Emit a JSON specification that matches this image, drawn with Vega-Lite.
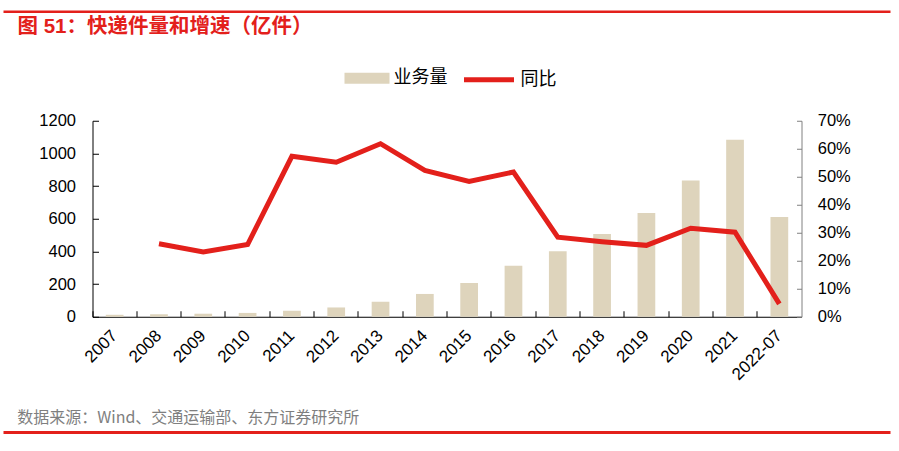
{
  "$schema": "https://vega.github.io/schema/vega-lite/v6.json",
  "background": "white",
  "padding": {"left": 1.5, "top": 9.75, "right": 0, "bottom": 0},
  "autosize": {"type": "pad"},
  "bounds": "flush",
  "center": true,
  "spacing": 20,
  "config": {"view": {"stroke": null}, "axis": {"grid": false}},
  "vconcat": [
    {
      "width": 887,
      "height": 89,
      "data": {"values": [{"start": 0, "end": 1, "level": 1}]},
      "mark": {"type": "rule", "color": "#E3201B", "strokeWidth": 2.5},
      "encoding": {
        "x": {"field": "start", "type": "quantitative", "scale": {"domain": [0, 1], "nice": false, "zero": false}, "axis": null},
        "x2": {"field": "end"},
        "y": {"field": "level", "type": "quantitative", "scale": {"domain": [0, 1], "nice": false}, "axis": null}
      },
      "title": {
        "text": "图 51：快递件量和增速（亿件）",
        "orient": "top",
        "anchor": "start",
        "frame": "group",
        "offset": -27,
        "dx": 14,
        "font": "Liberation Sans, Noto Sans CJK SC",
        "fontSize": 20.5,
        "fontWeight": "bold",
        "color": "#E3201B"
      }
    },
    {
      "width": 709,
      "height": 196,
      "data": {
        "values": [
          {"period": "2007", "volume": 12.0, "yoy": null},
          {"period": "2008", "volume": 15.1, "yoy": 0.261},
          {"period": "2009", "volume": 18.6, "yoy": 0.231},
          {"period": "2010", "volume": 23.4, "yoy": 0.258},
          {"period": "2011", "volume": 36.7, "yoy": 0.573},
          {"period": "2012", "volume": 56.9, "yoy": 0.552},
          {"period": "2013", "volume": 91.9, "yoy": 0.618},
          {"period": "2014", "volume": 139.6, "yoy": 0.523},
          {"period": "2015", "volume": 206.7, "yoy": 0.483},
          {"period": "2016", "volume": 312.8, "yoy": 0.517},
          {"period": "2017", "volume": 400.6, "yoy": 0.284},
          {"period": "2018", "volume": 507.1, "yoy": 0.268},
          {"period": "2019", "volume": 635.2, "yoy": 0.255},
          {"period": "2020", "volume": 833.6, "yoy": 0.316},
          {"period": "2021", "volume": 1083.0, "yoy": 0.302},
          {"period": "2022-07", "volume": 610.0, "yoy": 0.046}
        ]
      },
      "encoding": {
        "x": {
          "field": "period",
          "type": "nominal",
          "sort": null,
          "scale": {"paddingInner": 0, "paddingOuter": 0},
          "axis": {
            "title": null,
            "bandPosition": 0,
            "domainColor": "#000000",
            "domainWidth": 1,
            "tickColor": "#000000",
            "tickSize": -6,
            "labelAngle": -45,
            "labelAlign": "right",
            "labelBaseline": "middle",
            "labelOffset": 0,
            "labelPadding": 22,
            "labelFont": "Liberation Sans",
            "labelFontSize": 17,
            "labelColor": "#000000"
          }
        }
      },
      "layer": [
        {
          "mark": {"type": "bar", "width": {"band": 0.4}},
          "encoding": {
            "y": {
              "field": "volume",
              "type": "quantitative",
              "scale": {"domain": [0, 1200], "nice": false},
              "axis": {
                "title": null,
                "orient": "left",
                "format": "d",
                "values": [0, 200, 400, 600, 800, 1000, 1200],
                "domainColor": "#000000",
                "tickColor": "#000000",
                "tickSize": -6,
                "labelPadding": 23,
                "labelFont": "Liberation Sans",
                "labelFontSize": 16.5,
                "labelColor": "#000000"
              }
            },
            "color": {
              "datum": "业务量",
              "scale": {"range": ["#DED4BC"]},
              "legend": {
                "title": null,
                "orient": "none",
                "legendX": 341,
                "legendY": 44,
                "symbolType": "M-1,-0.24H1V0.24H-1Z",
                "symbolSize": 2025,
                "symbolStrokeWidth": 0,
                "labelFont": "Noto Sans CJK SC",
                "labelFontSize": 18,
                "labelColor": "#000000",
                "labelOffset": 4
              }
            }
          }
        },
        {
          "mark": {"type": "line", "strokeWidth": 5},
          "encoding": {
            "y": {
              "field": "yoy",
              "type": "quantitative",
              "scale": {"domain": [0, 0.7], "nice": false},
              "axis": {
                "title": null,
                "orient": "right",
                "format": ".0%",
                "values": [0, 0.1, 0.2, 0.3, 0.4, 0.5, 0.6, 0.7],
                "domainColor": "#808080",
                "tickColor": "#808080",
                "tickSize": -5,
                "labelPadding": 20.7,
                "labelFont": "Liberation Sans",
                "labelFontSize": 16.5,
                "labelColor": "#000000"
              }
            },
            "stroke": {
              "datum": "同比",
              "scale": {"range": ["#E3201B"]},
              "legend": {
                "title": null,
                "orient": "none",
                "legendX": 458,
                "legendY": 40.5,
                "symbolType": "stroke",
                "symbolSize": 2500,
                "symbolStrokeWidth": 5,
                "labelFont": "Noto Sans CJK SC",
                "labelFontSize": 18,
                "labelColor": "#000000",
                "labelOffset": 4
              }
            }
          }
        }
      ],
      "resolve": {"scale": {"y": "independent"}}
    },
    {
      "width": 887,
      "height": 95.7,
      "data": {"values": [{"start": 0, "end": 1, "level": 0}]},
      "mark": {"type": "rule", "color": "#E3201B", "strokeWidth": 3},
      "encoding": {
        "x": {"field": "start", "type": "quantitative", "scale": {"domain": [0, 1], "nice": false, "zero": false}, "axis": null},
        "x2": {"field": "end"},
        "y": {"field": "level", "type": "quantitative", "scale": {"domain": [0, 1], "nice": false}, "axis": null}
      },
      "title": {
        "text": "数据来源：Wind、交通运输部、东方证券研究所",
        "orient": "bottom",
        "anchor": "start",
        "frame": "group",
        "offset": -24,
        "dx": 13.7,
        "font": "Noto Sans CJK SC",
        "fontSize": 16,
        "fontWeight": "normal",
        "color": "#7F7F7F"
      }
    }
  ]
}
